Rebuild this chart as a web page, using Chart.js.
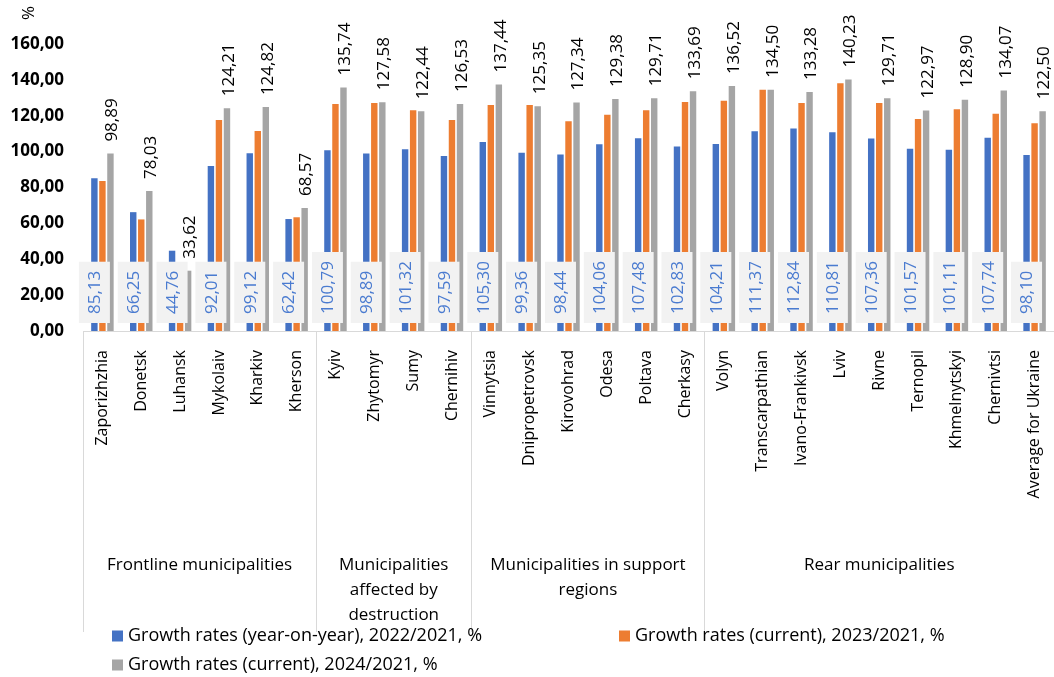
<!DOCTYPE html>
<html>
<head>
<meta charset="utf-8">
<title>Growth rates by municipality group</title>
<script src="https://cdn.jsdelivr.net/npm/chart.js@4.4.1/dist/chart.umd.min.js"></script>
<style>
  html, body { margin: 0; padding: 0; background: #ffffff; }
  #wrap { width: 1054px; height: 677px; }
</style>
</head>
<body>
<div id="wrap"><canvas id="chart" width="1054" height="677"></canvas></div>
<script>
// Regions (x axis categories)
const regions = [
  'Zaporizhzhia', 'Donetsk', 'Luhansk', 'Mykolaiv', 'Kharkiv', 'Kherson',
  'Kyiv', 'Zhytomyr', 'Sumy', 'Chernihiv',
  'Vinnytsia', 'Dnipropetrovsk', 'Kirovohrad', 'Odesa', 'Poltava', 'Cherkasy',
  'Volyn', 'Transcarpathian', 'Ivano-Frankivsk', 'Lviv', 'Rivne', 'Ternopil',
  'Khmelnytskyi', 'Chernivtsi', 'Average for Ukraine'
];

// Region groups and how many regions each one spans
const groupNames = [
  ['Frontline municipalities'],
  ['Municipalities', 'affected by', 'destruction'],
  ['Municipalities in support', 'regions'],
  ['Rear municipalities']
];
const groupSizes = [6, 4, 6, 9];

// Series
const seriesNames = [
  'Growth rates (year-on-year), 2022/2021, %',
  'Growth rates (current), 2023/2021, %',
  'Growth rates (current), 2024/2021, %'
];
const rates2022 = [
  85.13, 66.25, 44.76, 92.01, 99.12, 62.42,
  100.79, 98.89, 101.32, 97.59,
  105.30, 99.36, 98.44, 104.06, 107.48, 102.83,
  104.21, 111.37, 112.84, 110.81, 107.36, 101.57, 101.11, 107.74, 98.10
];
const rates2023 = [
  83.6, 62.2, 36.0, 117.6, 111.5, 63.4,
  126.5, 127.1, 123.0, 117.6,
  126.0, 126.0, 116.9, 120.6, 123.0, 127.6,
  128.4, 134.5, 127.1, 138.1, 127.1, 118.2, 123.6, 121.1, 115.8
];
const rates2024 = [
  98.89, 78.03, 33.62, 124.21, 124.82, 68.57,
  135.74, 127.58, 122.44, 126.53,
  137.44, 125.35, 127.34, 129.38, 129.71, 133.69,
  136.52, 134.50, 133.28, 140.23, 129.71, 122.97, 128.90, 134.07, 122.50
];

// Value axis ticks
const yTicks = [0, 20, 40, 60, 80, 100, 120, 140, 160];

const colors = ['#4472C4', '#ED7D31', '#A5A5A5'];
const FONT = "'Open Sans', 'Liberation Sans', sans-serif";

const fmt = v => v.toFixed(2).replace('.', ',');

// Labels, group captions, separators and legend drawn on top of the bars
const decor = {
  id: 'decor',
  afterDatasetsDraw(chart) {
    const ctx = chart.ctx;
    const xs = chart.scales.x;
    const ys = chart.scales.y;
    const base = ys.getPixelForValue(0);
    const n = regions.length;
    const catW = (xs.right - xs.left) / n;

    // axis line and group separators
    ctx.save();
    ctx.strokeStyle = '#d9d9d9';
    ctx.lineWidth = 1;
    ctx.beginPath();
    ctx.moveTo(xs.left, Math.round(base) + 0.5);
    ctx.lineTo(xs.right, Math.round(base) + 0.5);
    let idx = 0;
    const bounds = [0];
    groupSizes.forEach(s => { idx += s; bounds.push(idx); });
    bounds.slice(0, -1).forEach(b => {
      const x = Math.round(xs.getPixelForValue(b) - catW / 2) + 0.5;
      ctx.moveTo(x, base);
      ctx.lineTo(x, 632);
    });
    ctx.stroke();
    ctx.restore();

    // group captions
    ctx.save();
    ctx.fillStyle = '#000000';
    ctx.font = '17px ' + FONT;
    ctx.textAlign = 'center';
    ctx.textBaseline = 'middle';
    groupNames.forEach((lines, g) => {
      const x0 = xs.getPixelForValue(bounds[g]) - catW / 2;
      const x1 = xs.getPixelForValue(bounds[g + 1] - 1) + catW / 2;
      lines.forEach((t, k) => ctx.fillText(t, (x0 + x1) / 2, 565 + k * 25));
    });
    ctx.restore();

    // 2022 values in boxes near the base
    const m0 = chart.getDatasetMeta(0);
    ctx.save();
    ctx.font = '17px ' + FONT;
    m0.data.forEach((bar, i) => {
      const txt = fmt(rates2022[i]);
      const tw = ctx.measureText(txt).width;
      const h = tw + 18;
      const w = 31;
      const bottom = base - 8;
      ctx.fillStyle = '#f2f2f2';
      ctx.fillRect(bar.x - w / 2, bottom - h, w, h);
      ctx.save();
      ctx.translate(bar.x + 1, bottom - h / 2);
      ctx.rotate(-Math.PI / 2);
      ctx.fillStyle = '#4a7bd0';
      ctx.textAlign = 'center';
      ctx.textBaseline = 'middle';
      ctx.fillText(txt, 0, 0);
      ctx.restore();
    });
    ctx.restore();

    // 2024 values above the bars
    const m2 = chart.getDatasetMeta(2);
    ctx.save();
    ctx.font = '17px ' + FONT;
    ctx.fillStyle = '#000000';
    m2.data.forEach((bar, i) => {
      ctx.save();
      ctx.translate(bar.x + 2, bar.y - 12);
      ctx.rotate(-Math.PI / 2);
      ctx.textAlign = 'left';
      ctx.textBaseline = 'middle';
      ctx.fillText(fmt(rates2024[i]), 0, 0);
      ctx.restore();
    });
    ctx.restore();

    // unit, turned like the other vertical texts
    ctx.save();
    ctx.font = '17px ' + FONT;
    ctx.fillStyle = '#000000';
    ctx.translate(29, 13);
    ctx.rotate(-Math.PI / 2);
    ctx.textAlign = 'center';
    ctx.textBaseline = 'middle';
    ctx.fillText('%', 0, 0);
    ctx.restore();

    // legend
    const spots = [[112, 636], [619, 636], [112, 665]];
    ctx.save();
    ctx.font = '18px ' + FONT;
    ctx.textBaseline = 'middle';
    ctx.textAlign = 'left';
    chart.data.datasets.forEach((ds, i) => {
      const [lx, ly] = spots[i];
      ctx.fillStyle = ds.backgroundColor;
      ctx.fillRect(lx, ly - 5.5, 11, 11);
      ctx.fillStyle = '#000000';
      ctx.fillText(ds.label, lx + 16, ly);
    });
    ctx.restore();
  }
};

new Chart(document.getElementById('chart'), {
  type: 'bar',
  data: {
    labels: regions,
    datasets: [
      { label: seriesNames[0], data: rates2022, backgroundColor: colors[0] },
      { label: seriesNames[1], data: rates2023, backgroundColor: colors[1] },
      { label: seriesNames[2], data: rates2024, backgroundColor: colors[2] }
    ]
  },
  options: {
    responsive: false,
    devicePixelRatio: 1,
    animation: false,
    layout: { padding: { top: 44, right: 0, bottom: 0, left: 0 } },
    datasets: { bar: { categoryPercentage: 0.62, barPercentage: 0.8 } },
    plugins: { legend: { display: false }, tooltip: { enabled: false } },
    scales: {
      x: {
        grid: { display: false, drawTicks: false },
        border: { display: false },
        afterFit: s => {
          s.height = 346;
          s.paddingLeft = 0;
          s.paddingRight = 0;
        },
        ticks: {
          autoSkip: false,
          maxRotation: 90,
          minRotation: 90,
          padding: 19,
          color: '#000000',
          font: { family: FONT, size: 16 }
        }
      },
      y: {
        min: 0,
        max: 160,
        grid: { display: false, drawTicks: false },
        border: { display: false },
        afterFit: s => { s.width = 83; },
        afterBuildTicks: s => { s.ticks = yTicks.map(v => ({ value: v })); },
        ticks: {
          padding: 19,
          color: '#000000',
          font: { family: FONT, size: 17, weight: 'bold' },
          callback: v => fmt(v)
        }
      }
    }
  },
  plugins: [decor]
});
</script>
</body>
</html>
